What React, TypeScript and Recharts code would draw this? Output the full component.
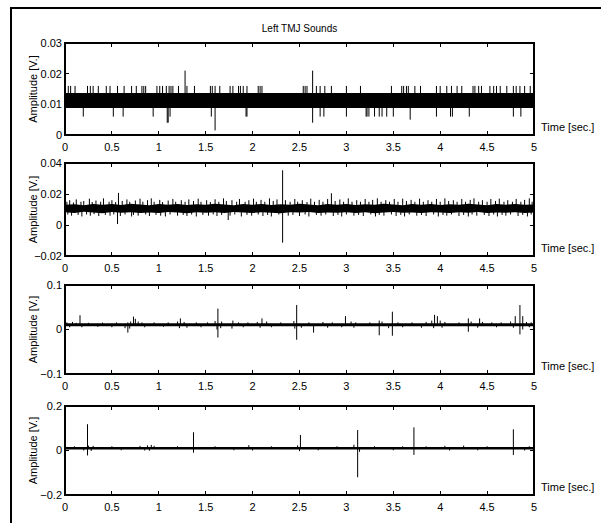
import React from 'react';
import { ComposedChart, Line, Area, XAxis, YAxis } from 'recharts';

// ---------- data ----------
const titleText = 'Left TMJ Sounds';
const xLabel = 'Time [sec.]';
const yLabel = 'Amplitude [V.]';
const timeTicks = [0, 0.5, 1, 1.5, 2, 2.5, 3, 3.5, 4, 4.5, 5];

type Seg = [number, number, number]; // time, low, high
type Pt = [number, number]; // time, value

// Panel 1
const p1YTicks = [0, 0.01, 0.02, 0.03];
const p1Band: Seg[] = [[0, 0.0088, 0.0137], [5, 0.0088, 0.0137]];
const p1Up: Pt[] = [
  [0.035, 0.016], [0.06, 0.016], [0.107, 0.016], [0.24, 0.016], [0.27, 0.016], [0.30, 0.016], [0.355, 0.016],
  [0.44, 0.016], [0.48, 0.016], [0.56, 0.016], [0.63, 0.016], [0.71, 0.016], [0.76, 0.016], [0.82, 0.016],
  [0.84, 0.016], [0.86, 0.016], [0.98, 0.016], [1.01, 0.016], [1.04, 0.016], [1.08, 0.016], [1.11, 0.016],
  [1.13, 0.016], [1.15, 0.016], [1.21, 0.016], [1.28, 0.021], [1.30, 0.016], [1.38, 0.016], [1.55, 0.016],
  [1.57, 0.016], [1.60, 0.016], [1.65, 0.016], [1.76, 0.016], [1.79, 0.016], [1.85, 0.016], [1.87, 0.016],
  [1.90, 0.016], [1.94, 0.016], [2.06, 0.016], [2.08, 0.016], [2.10, 0.016], [2.54, 0.016], [2.56, 0.016],
  [2.58, 0.016], [2.64, 0.021], [2.68, 0.016], [2.72, 0.016], [2.77, 0.016], [2.84, 0.016], [3.00, 0.016],
  [3.15, 0.016], [3.48, 0.016], [3.59, 0.016], [3.61, 0.016], [3.64, 0.016], [3.66, 0.016], [3.73, 0.016],
  [3.79, 0.016], [3.96, 0.016], [4.00, 0.016], [4.07, 0.016], [4.12, 0.016], [4.18, 0.016], [4.23, 0.016],
  [4.35, 0.016], [4.37, 0.016], [4.41, 0.016], [4.44, 0.016], [4.53, 0.016], [4.57, 0.016], [4.60, 0.016],
  [4.64, 0.016], [4.71, 0.016], [4.78, 0.016], [4.81, 0.016], [4.85, 0.016], [4.90, 0.016], [4.96, 0.016],
];
const p1Down: Pt[] = [
  [0.195, 0.006], [0.515, 0.006], [0.62, 0.006], [0.94, 0.006], [1.09, 0.004], [1.10, 0.004], [1.12, 0.006],
  [1.56, 0.006], [1.60, 0.0015], [1.93, 0.006], [1.94, 0.006], [2.64, 0.004], [2.72, 0.006], [2.76, 0.006],
  [3.00, 0.006], [3.21, 0.006], [3.22, 0.006], [3.24, 0.006], [3.30, 0.006], [3.35, 0.006], [3.38, 0.006],
  [3.43, 0.006], [3.50, 0.006], [3.68, 0.005], [3.96, 0.006], [4.11, 0.006], [4.13, 0.006], [4.31, 0.006],
  [4.78, 0.006], [4.86, 0.006],
];

// Panel 2
const p2YTicks = [-0.02, 0, 0.02, 0.04];
const p2Band: Seg[] = [
  [0.0, 0.0082, 0.0130], [0.1, 0.0078, 0.0134], [0.2, 0.0085, 0.0128], [0.3, 0.0080, 0.0136], [0.4, 0.0076, 0.0131],
  [0.5, 0.0084, 0.0135], [0.6, 0.0079, 0.0129], [0.7, 0.0083, 0.0137], [0.8, 0.0077, 0.0132], [0.9, 0.0081, 0.0128],
  [1.0, 0.0078, 0.0135], [1.1, 0.0084, 0.0131], [1.2, 0.0080, 0.0136], [1.3, 0.0076, 0.0129], [1.4, 0.0083, 0.0134],
  [1.5, 0.0079, 0.0130], [1.6, 0.0082, 0.0137], [1.7, 0.0077, 0.0132], [1.8, 0.0084, 0.0128], [1.9, 0.0080, 0.0135],
  [2.0, 0.0078, 0.0131], [2.1, 0.0083, 0.0136], [2.2, 0.0079, 0.0129], [2.3, 0.0076, 0.0134], [2.4, 0.0082, 0.0130],
  [2.5, 0.0080, 0.0137], [2.6, 0.0084, 0.0132], [2.7, 0.0077, 0.0128], [2.8, 0.0081, 0.0135], [2.9, 0.0079, 0.0131],
  [3.0, 0.0083, 0.0136], [3.1, 0.0078, 0.0129], [3.2, 0.0082, 0.0134], [3.3, 0.0076, 0.0130], [3.4, 0.0080, 0.0137],
  [3.5, 0.0084, 0.0132], [3.6, 0.0079, 0.0128], [3.7, 0.0081, 0.0135], [3.8, 0.0077, 0.0131], [3.9, 0.0083, 0.0136],
  [4.0, 0.0080, 0.0129], [4.1, 0.0078, 0.0134], [4.2, 0.0082, 0.0130], [4.3, 0.0079, 0.0137], [4.4, 0.0084, 0.0132],
  [4.5, 0.0077, 0.0128], [4.6, 0.0081, 0.0135], [4.7, 0.0079, 0.0131], [4.8, 0.0083, 0.0136], [4.9, 0.0078, 0.0130],
  [5.0, 0.0081, 0.0133],
];
const p2Up: Pt[] = [
  [0.02, 0.0150], [0.05, 0.0160], [0.09, 0.0145], [0.12, 0.0165], [0.17, 0.0150], [0.20, 0.0155], [0.26, 0.0170],
  [0.29, 0.0148], [0.33, 0.0158], [0.38, 0.0150], [0.41, 0.0172], [0.47, 0.0150], [0.50, 0.0160], [0.54, 0.0148],
  [0.57, 0.0207], [0.61, 0.0155], [0.66, 0.0165], [0.69, 0.0150], [0.75, 0.0158], [0.80, 0.0170], [0.83, 0.0150],
  [0.88, 0.0160], [0.92, 0.0172], [0.95, 0.0150], [1.01, 0.0162], [1.04, 0.0148], [1.10, 0.0158], [1.15, 0.0168],
  [1.18, 0.0150], [1.24, 0.0160], [1.28, 0.0150], [1.32, 0.0165], [1.37, 0.0155], [1.42, 0.0170], [1.45, 0.0150],
  [1.51, 0.0160], [1.55, 0.0148], [1.60, 0.0166], [1.64, 0.0150], [1.69, 0.0172], [1.72, 0.0155], [1.78, 0.0160],
  [1.83, 0.0150], [1.86, 0.0168], [1.92, 0.0150], [1.96, 0.0160], [2.01, 0.0170], [2.04, 0.0150], [2.09, 0.0162],
  [2.13, 0.0150], [2.18, 0.0172], [2.22, 0.0155], [2.26, 0.0165], [2.32, 0.0353], [2.35, 0.0160], [2.40, 0.0150],
  [2.45, 0.0168], [2.48, 0.0150], [2.53, 0.0160], [2.58, 0.0148], [2.62, 0.0170], [2.66, 0.0150], [2.71, 0.0162],
  [2.75, 0.0150], [2.80, 0.0168], [2.84, 0.0205], [2.88, 0.0155], [2.93, 0.0165], [2.97, 0.0150], [3.02, 0.0172],
  [3.06, 0.0150], [3.11, 0.0160], [3.15, 0.0150], [3.20, 0.0168], [3.24, 0.0150], [3.28, 0.0162], [3.33, 0.0172],
  [3.37, 0.0150], [3.42, 0.0160], [3.46, 0.0150], [3.51, 0.0168], [3.55, 0.0150], [3.60, 0.0170], [3.64, 0.0155],
  [3.69, 0.0162], [3.73, 0.0150], [3.78, 0.0170], [3.82, 0.0150], [3.87, 0.0160], [3.91, 0.0150], [3.96, 0.0168],
  [4.00, 0.0150], [4.05, 0.0172], [4.09, 0.0155], [4.14, 0.0160], [4.18, 0.0150], [4.23, 0.0168], [4.27, 0.0150],
  [4.32, 0.0162], [4.36, 0.0172], [4.41, 0.0150], [4.45, 0.0160], [4.50, 0.0150], [4.54, 0.0168], [4.59, 0.0155],
  [4.63, 0.0170], [4.68, 0.0150], [4.72, 0.0160], [4.77, 0.0150], [4.81, 0.0168], [4.86, 0.0150], [4.90, 0.0162],
  [4.95, 0.0172], [4.98, 0.0150],
];
const p2Down: Pt[] = [
  [0.03, 0.0068], [0.07, 0.0060], [0.14, 0.0065], [0.18, 0.0055], [0.23, 0.0068], [0.27, 0.0060], [0.31, 0.0070],
  [0.36, 0.0058], [0.43, 0.0065], [0.48, 0.0060], [0.52, 0.0068], [0.56, 0.0006], [0.59, 0.0058], [0.64, 0.0068],
  [0.71, 0.0055], [0.73, 0.0065], [0.78, 0.0060], [0.86, 0.0068], [0.90, 0.0058], [0.97, 0.0065], [1.02, 0.0060],
  [1.07, 0.0055], [1.12, 0.0068], [1.20, 0.0060], [1.26, 0.0065], [1.30, 0.0058], [1.35, 0.0068], [1.40, 0.0055],
  [1.47, 0.0065], [1.53, 0.0060], [1.58, 0.0068], [1.62, 0.0058], [1.67, 0.0065], [1.74, 0.0032], [1.76, 0.0060],
  [1.81, 0.0068], [1.88, 0.0055], [1.94, 0.0065], [1.99, 0.0060], [2.06, 0.0068], [2.11, 0.0058], [2.16, 0.0065],
  [2.20, 0.0055], [2.28, 0.0068], [2.32, -0.0114], [2.38, 0.0060], [2.43, 0.0065], [2.50, 0.0058], [2.56, 0.0068],
  [2.60, 0.0055], [2.68, 0.0065], [2.73, 0.0060], [2.78, 0.0068], [2.86, 0.0058], [2.91, 0.0065], [2.95, 0.0055],
  [3.00, 0.0068], [3.08, 0.0060], [3.13, 0.0065], [3.18, 0.0058], [3.26, 0.0068], [3.31, 0.0055], [3.35, 0.0065],
  [3.40, 0.0060], [3.48, 0.0068], [3.53, 0.0058], [3.58, 0.0065], [3.62, 0.0055], [3.67, 0.0068], [3.75, 0.0060],
  [3.80, 0.0065], [3.85, 0.0058], [3.93, 0.0068], [3.98, 0.0055], [4.03, 0.0065], [4.07, 0.0060], [4.12, 0.0068],
  [4.20, 0.0058], [4.25, 0.0065], [4.30, 0.0055], [4.34, 0.0068], [4.39, 0.0060], [4.47, 0.0065], [4.52, 0.0058],
  [4.57, 0.0068], [4.61, 0.0055], [4.66, 0.0065], [4.70, 0.0060], [4.75, 0.0068], [4.83, 0.0058], [4.88, 0.0065],
  [4.93, 0.0055], [4.97, 0.0068],
];

// Panel 3
const p3YTicks = [-0.1, 0, 0.1];
const p3Band: Seg[] = [[0, 0.0075, 0.014], [5, 0.0075, 0.014]];
const p3Up: Pt[] = [
  [0.02, 0.016], [0.08, 0.017], [0.12, 0.015], [0.16, 0.032], [0.25, 0.015], [0.40, 0.0155], [0.55, 0.016],
  [0.67, 0.016], [0.70, 0.018], [0.73, 0.029], [0.75, 0.024], [0.78, 0.018], [0.82, 0.016], [0.95, 0.016],
  [1.10, 0.016], [1.20, 0.018], [1.23, 0.025], [1.27, 0.017], [1.40, 0.016], [1.52, 0.016], [1.60, 0.019],
  [1.63, 0.047], [1.67, 0.018], [1.79, 0.02], [1.85, 0.016], [1.95, 0.016], [2.05, 0.017], [2.10, 0.025],
  [2.15, 0.018], [2.30, 0.016], [2.44, 0.019], [2.47, 0.055], [2.60, 0.016], [2.75, 0.017], [2.85, 0.016],
  [2.99, 0.030], [3.05, 0.018], [3.10, 0.016], [3.25, 0.016], [3.35, 0.02], [3.38, 0.018], [3.49, 0.040],
  [3.55, 0.016], [3.70, 0.016], [3.85, 0.017], [3.91, 0.02], [3.94, 0.033], [3.97, 0.03], [4.00, 0.02],
  [4.05, 0.017], [4.20, 0.016], [4.30, 0.025], [4.33, 0.018], [4.42, 0.025], [4.45, 0.017], [4.55, 0.016],
  [4.65, 0.016], [4.75, 0.018], [4.80, 0.03], [4.85, 0.055], [4.88, 0.03], [4.92, 0.017], [4.97, 0.016],
];
const p3Down: Pt[] = [
  [0.05, 0.005], [0.18, 0.005], [0.35, 0.006], [0.50, 0.005], [0.64, 0.003], [0.67, -0.007], [0.69, 0.002],
  [0.85, 0.005], [1.05, 0.006], [1.22, 0.003], [1.30, 0.004], [1.45, 0.005], [1.62, 0.0], [1.63, -0.018],
  [1.66, 0.003], [1.78, 0.002], [1.90, 0.005], [2.08, 0.004], [2.20, 0.005], [2.45, 0.002], [2.47, -0.023],
  [2.52, 0.004], [2.65, -0.007], [2.80, 0.004], [2.95, 0.005], [3.08, 0.004], [3.35, -0.013], [3.45, 0.003],
  [3.49, -0.014], [3.60, 0.005], [3.80, 0.004], [3.93, 0.003], [4.02, 0.004], [4.30, -0.005], [4.40, 0.004],
  [4.60, 0.005], [4.78, 0.004], [4.85, -0.011], [4.88, 0.0], [4.95, 0.005],
];

// Panel 4
const p4YTicks = [-0.2, 0, 0.2];
const p4Band: Seg[] = [[0, 0.004, 0.016], [5, 0.004, 0.016]];
const p4Up: Pt[] = [
  [0.1, 0.019], [0.24, 0.118], [0.25, 0.022], [0.3, 0.021], [0.5, 0.019], [0.8, 0.021], [0.88, 0.023],
  [0.92, 0.025], [0.95, 0.021], [1.2, 0.019], [1.37, 0.082], [1.6, 0.019], [1.96, 0.024], [2.2, 0.019],
  [2.48, 0.023], [2.51, 0.07], [2.9, 0.019], [3.08, 0.026], [3.12, 0.092], [3.3, 0.019], [3.6, 0.019],
  [3.72, 0.104], [3.85, 0.019], [4.05, 0.021], [4.25, 0.022], [4.5, 0.019], [4.78, 0.095], [4.95, 0.019],
];
const p4Down: Pt[] = [
  [0.2, 0.0], [0.24, -0.022], [0.28, -0.002], [0.6, 0.001], [0.85, 0.0], [0.9, -0.001], [1.37, -0.01],
  [1.8, 0.001], [2.0, 0.0], [2.5, -0.003], [2.7, 0.001], [3.12, -0.12], [3.14, -0.006], [3.5, 0.001],
  [3.72, -0.02], [4.1, 0.0], [4.4, 0.001], [4.78, -0.02], [4.9, 0.0],
];

// ---------- helpers ----------
const fmtY = (v: number) => (v === 0 ? '0' : String(v).replace('-', '\u2212'));
const bandData = (b: Seg[]) => b.map(([t, lo, hi]) => ({ t, range: [lo, hi] }));
type Row = { t: number; v: number | null };
const spikeRows = (up: Pt[], down: Pt[], mid: number): Row[] => {
  const segs: Seg[] = [
    ...up.map(([t, hi]) => [t, mid, hi] as Seg),
    ...down.map(([t, lo]) => [t, lo, mid] as Seg),
  ].sort((a, b) => a[0] - b[0]);
  const out: Row[] = [];
  segs.forEach(([t, lo, hi]) => {
    out.push({ t, v: lo }, { t, v: hi }, { t, v: null });
  });
  return out;
};

const FONT = 'Liberation Sans, Arial, Helvetica, sans-serif';
const tickStyle = { fontSize: 11, fill: '#000', fontFamily: FONT };
const PLOT_L = 65;
const PLOT_W = 469;
const TICK_LEN = 4;

type PanelProps = {
  top: number;
  plotH: number;
  yTicks: number[];
  band: Seg[];
  up: Pt[];
  down: Pt[];
};

const Panel = ({ top, plotH, yTicks, band, up, down }: PanelProps) => {
  const mid = (band[0][1] + band[0][2]) / 2;
  const yMin = yTicks[0];
  const yMax = yTicks[yTicks.length - 1];
  const domain: [number, number] = [yMin, yMax];
  const xMax = timeTicks[timeTicks.length - 1];
  const mt = 5;
  const xh = 20;
  const mb = 5;
  const xPos = (t: number) => Math.round(PLOT_L + (t / xMax) * PLOT_W - 0.5);
  const yPos = (v: number) => Math.round(top + ((yMax - v) / (yMax - yMin)) * plotH - 0.5);
  const tickDiv = (key: string, left: number, tp: number, w: number, h: number) => (
    <div
      key={key}
      style={{ position: 'absolute', left, top: tp, width: w, height: h, background: '#000', pointerEvents: 'none' }}
    />
  );
  return (
    <>
      <div style={{ position: 'absolute', left: 0, top: top - mt }}>
        <ComposedChart
          width={601}
          height={mt + plotH + xh + mb}
          margin={{ top: mt, right: 601 - PLOT_L - PLOT_W, bottom: mb, left: 1 }}
        >
          <XAxis
            type="number"
            dataKey="t"
            domain={[0, xMax]}
            ticks={timeTicks}
            interval={0}
            height={xh}
            tickSize={-TICK_LEN}
            tickMargin={12}
            tick={tickStyle}
            axisLine={false}
            tickLine={false}
            label={{ value: xLabel, position: 'right', offset: 7, dy: -18, fill: '#000', fontSize: 11, fontFamily: FONT }}
          />
          <YAxis
            type="number"
            domain={domain}
            ticks={yTicks}
            interval={0}
            width={PLOT_L - 1}
            tickSize={-TICK_LEN}
            tickMargin={7}
            tick={tickStyle}
            tickFormatter={fmtY}
            axisLine={false}
            tickLine={false}
            label={{ value: yLabel, angle: -90, position: 'center', fill: '#000', fontSize: 11, fontFamily: FONT }}
          />
          <Area
            data={bandData(band)}
            dataKey="range"
            type="linear"
            stroke="none"
            fill="#000"
            fillOpacity={1}
            isAnimationActive={false}
          />
          <Line
            data={spikeRows(up, down, mid)}
            dataKey="v"
            type="linear"
            stroke="#000"
            strokeWidth={1}
            dot={false}
            isAnimationActive={false}
          />
        </ComposedChart>
      </div>
      {/* axes box */}
      <div
        style={{
          position: 'absolute',
          left: PLOT_L - 1,
          top: top - 1,
          width: PLOT_W + 2,
          height: plotH + 2,
          border: '2px solid #000',
          boxSizing: 'border-box',
          pointerEvents: 'none',
        }}
      />
      {/* inward tick marks on all four sides */}
      {timeTicks.map((t) => tickDiv('tt' + t, xPos(t), top, 1, TICK_LEN))}
      {timeTicks.map((t) => tickDiv('bt' + t, xPos(t), top + plotH - TICK_LEN, 1, TICK_LEN))}
      {yTicks.map((v) => tickDiv('lt' + v, PLOT_L, yPos(v), TICK_LEN, 1))}
      {yTicks.map((v) => tickDiv('rt' + v, PLOT_L + PLOT_W - TICK_LEN, yPos(v), TICK_LEN, 1))}
    </>
  );
};

export default function App() {
  return (
    <div
      style={{
        position: 'absolute',
        left: 0,
        top: 0,
        width: 601,
        height: 523,
        background: '#fff',
        overflow: 'hidden',
        fontFamily: FONT,
      }}
    >
      <div
        style={{
          position: 'absolute',
          left: 10,
          top: 7,
          width: 600,
          height: 520,
          borderLeft: '2px solid #000',
          borderTop: '2px solid #000',
        }}
      />
      <div
        style={{
          position: 'absolute',
          left: PLOT_L,
          width: PLOT_W,
          top: 23,
          textAlign: 'center',
          fontSize: 10,
          lineHeight: '12px',
          color: '#000',
        }}
      >
        {titleText}
      </div>
      <Panel top={43} plotH={92} yTicks={p1YTicks} band={p1Band} up={p1Up} down={p1Down} />
      <Panel top={163} plotH={93} yTicks={p2YTicks} band={p2Band} up={p2Up} down={p2Down} />
      <Panel top={285} plotH={89} yTicks={p3YTicks} band={p3Band} up={p3Up} down={p3Down} />
      <Panel top={406} plotH={89} yTicks={p4YTicks} band={p4Band} up={p4Up} down={p4Down} />
    </div>
  );
}
